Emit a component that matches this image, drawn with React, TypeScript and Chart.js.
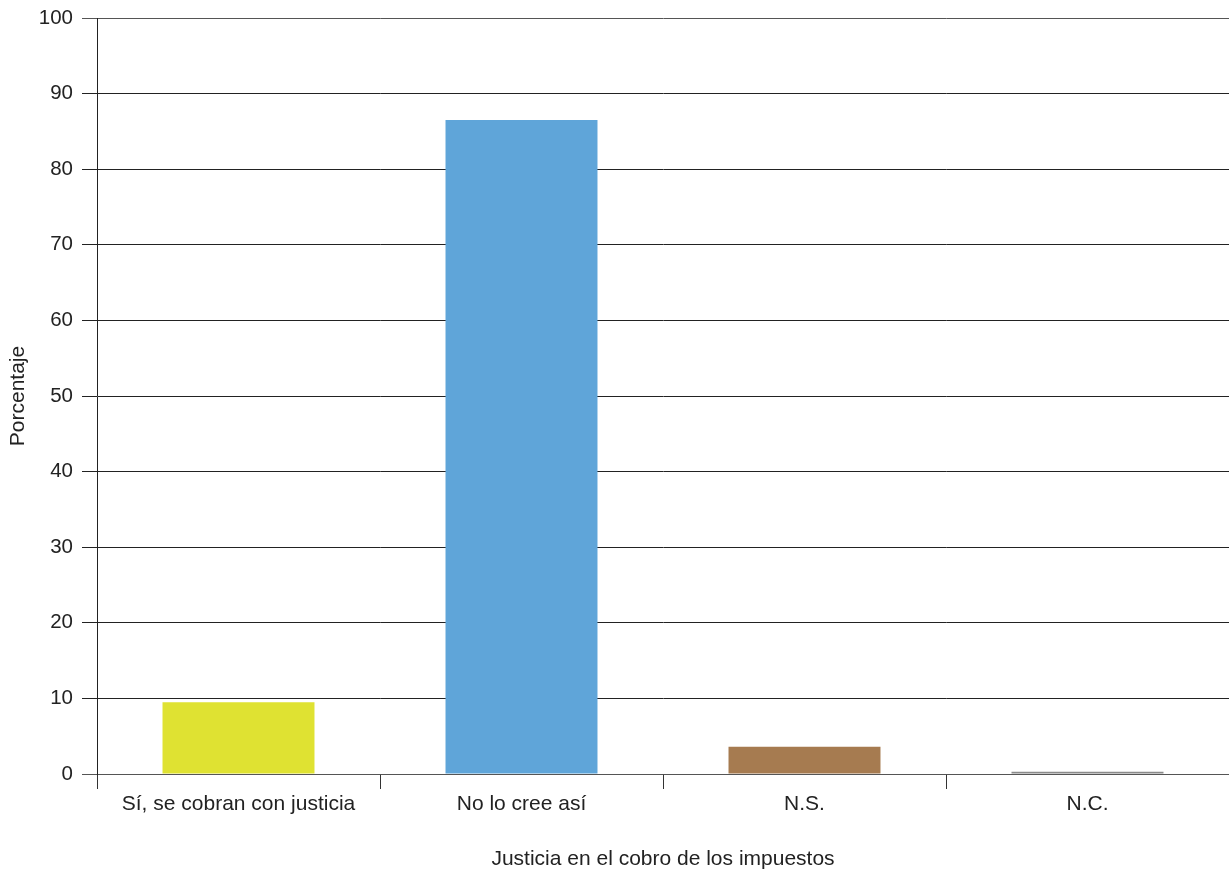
import React, { useEffect, useRef } from "react";
import { Chart, registerables } from "chart.js";

Chart.register(...registerables);

const categories = ["Sí, se cobran con justicia", "No lo cree así", "N.S.", "N.C."];
const values = [9.5, 86.5, 3.6, 0.3];
const barColors = ["#dfe232", "#5fa5d9", "#a67b50", "#8a8a8a"];
const yTicks = [0, 10, 20, 30, 40, 50, 60, 70, 80, 90, 100];
const xTitle = "Justicia en el cobro de los impuestos";
const yTitle = "Porcentaje";

const FONT = "'Liberation Sans', Arial, Helvetica, sans-serif";

export default function App() {
  const ref = useRef<HTMLCanvasElement | null>(null);

  useEffect(() => {
    document.body.style.margin = "0";
    const canvas = ref.current;
    if (!canvas) return;
    const chart = new Chart(canvas, {
      type: "bar",
      data: {
        labels: categories,
        datasets: [
          {
            data: values,
            backgroundColor: barColors,
            borderWidth: 0,
            barPercentage: 0.537,
            categoryPercentage: 1,
          },
        ],
      },
      options: {
        responsive: false,
        animation: false,
        devicePixelRatio: 1,
        layout: { padding: { top: 0, right: 0, left: 0, bottom: 0 } },
        plugins: { legend: { display: false }, tooltip: { enabled: false } },
        scales: {
          x: {
            type: "category",
            offset: true,
            grid: {
              offset: true,
              drawOnChartArea: false,
              drawTicks: true,
              tickLength: 15,
              color: "#333333",
              lineWidth: 1,
            },
            border: { display: false },
            ticks: {
              color: "#222222",
              font: { family: FONT, size: 21 },
              padding: 3,
              maxRotation: 0,
              autoSkip: false,
            },
            title: {
              display: true,
              text: xTitle,
              color: "#222222",
              font: { family: FONT, size: 21 },
              padding: { top: 4, bottom: 0 },
            },
            afterFit: (scale: any) => {
              scale.height = 98;
              scale.paddingLeft = 0;
              scale.paddingRight = 0;
            },
          },
          y: {
            min: 0,
            max: 100,
            afterBuildTicks: (scale: any) => {
              scale.ticks = yTicks.map((v) => ({ value: v }));
            },
            grid: {
              drawTicks: true,
              tickLength: 15,
              color: (ctx: any) =>
                ctx.tick && (ctx.tick.value === 0 || ctx.tick.value === 100) ? "#555555" : "#222222",
              lineWidth: 1,
            },
            border: { display: true, color: "#222222", width: 1 },
            ticks: {
              color: "#222222",
              font: { family: FONT, size: 20.5 },
              padding: 9,
            },
            title: {
              display: true,
              text: yTitle,
              color: "#222222",
              font: { family: FONT, size: 21 },
              padding: { top: 6, bottom: 4 },
            },
            afterFit: (scale: any) => {
              scale.width = 97;
              scale.paddingTop = 18;
              scale.paddingBottom = 0;
            },
          },
        },
      },
    });
    return () => chart.destroy();
  }, []);

  return (
    <div style={{ width: 1229, height: 872, background: "#ffffff" }}>
      <canvas ref={ref} width={1229} height={872} style={{ display: "block" }} />
    </div>
  );
}
